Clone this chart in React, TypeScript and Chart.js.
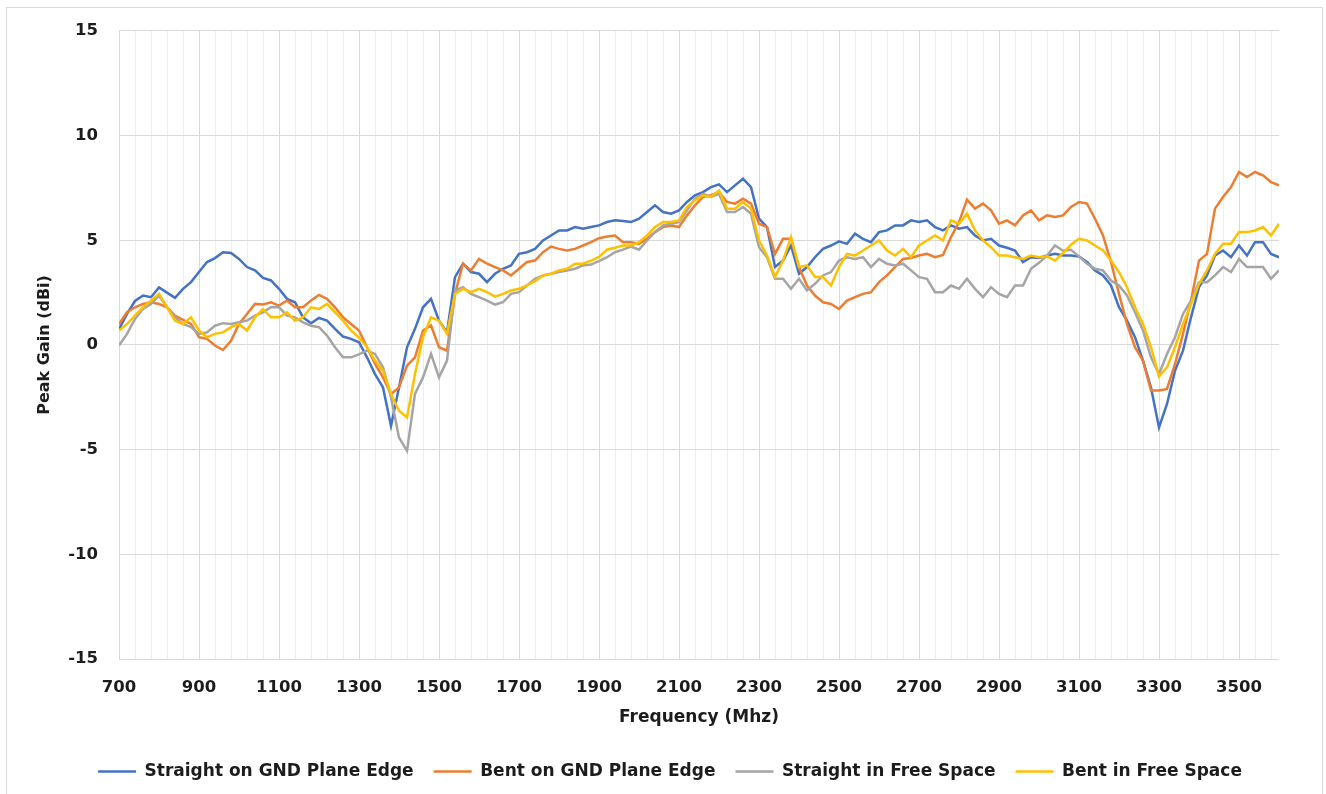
import React, { useEffect, useRef } from 'react';
import { Chart, registerables } from 'chart.js';

Chart.register(...registerables);

// Frequency (MHz), 20 MHz steps
const freq = [
  700, 720, 740, 760, 780, 800, 820, 840, 860, 880,
  900, 920, 940, 960, 980, 1000, 1020, 1040, 1060, 1080,
  1100, 1120, 1140, 1160, 1180, 1200, 1220, 1240, 1260, 1280,
  1300, 1320, 1340, 1360, 1380, 1400, 1420, 1440, 1460, 1480,
  1500, 1520, 1540, 1560, 1580, 1600, 1620, 1640, 1660, 1680,
  1700, 1720, 1740, 1760, 1780, 1800, 1820, 1840, 1860, 1880,
  1900, 1920, 1940, 1960, 1980, 2000, 2020, 2040, 2060, 2080,
  2100, 2120, 2140, 2160, 2180, 2200, 2220, 2240, 2260, 2280,
  2300, 2320, 2340, 2360, 2380, 2400, 2420, 2440, 2460, 2480,
  2500, 2520, 2540, 2560, 2580, 2600, 2620, 2640, 2660, 2680,
  2700, 2720, 2740, 2760, 2780, 2800, 2820, 2840, 2860, 2880,
  2900, 2920, 2940, 2960, 2980, 3000, 3020, 3040, 3060, 3080,
  3100, 3120, 3140, 3160, 3180, 3200, 3220, 3240, 3260, 3280,
  3300, 3320, 3340, 3360, 3380, 3400, 3420, 3440, 3460, 3480,
  3500, 3520, 3540, 3560, 3580, 3600,
];

const straightGnd = [
  0.75, 1.48, 2.1, 2.36, 2.28, 2.75, 2.5, 2.25, 2.68, 3.0,
  3.48, 3.96, 4.15, 4.43, 4.39, 4.11, 3.72, 3.56, 3.2, 3.08,
  2.68, 2.2, 2.04, 1.32, 1.04, 1.29, 1.16, 0.77, 0.4, 0.29,
  0.13, -0.59, -1.39, -2.03, -3.86, -2.03, -0.11, 0.77, 1.8, 2.2,
  1.16, 0.6, 3.24, 3.88, 3.48, 3.4, 3.0, 3.4, 3.64, 3.8,
  4.35, 4.43, 4.59, 4.99, 5.23, 5.47, 5.47, 5.63, 5.55, 5.63,
  5.71, 5.87, 5.95, 5.92, 5.87, 6.03, 6.35, 6.67, 6.35, 6.27,
  6.43, 6.83, 7.15, 7.3, 7.54, 7.67, 7.3, 7.62, 7.94, 7.54,
  6.03, 5.63, 3.72, 4.03, 4.75, 3.4, 3.72, 4.19, 4.59, 4.75,
  4.95, 4.83, 5.31, 5.07, 4.91, 5.39, 5.47, 5.71, 5.71, 5.95,
  5.87, 5.95, 5.63, 5.47, 5.71, 5.55, 5.63, 5.23, 4.99, 5.07,
  4.75, 4.64, 4.51, 3.96, 4.19, 4.15, 4.27, 4.35, 4.27, 4.27,
  4.23, 3.96, 3.56, 3.32, 2.84, 1.8, 1.16, 0.37, -0.75, -2.03,
  -3.94, -2.82, -1.23, -0.27, 1.32, 2.76, 3.32, 4.27, 4.51, 4.19,
  4.75, 4.27, 4.91, 4.91, 4.35, 4.19,
];

const bentGnd = [
  1.0, 1.56, 1.8, 1.96, 2.04, 1.96, 1.8, 1.4, 1.2, 1.0,
  0.37, 0.29, -0.03, -0.24, 0.2, 1.0, 1.48, 1.96, 1.93, 2.04,
  1.88, 2.12, 1.8, 1.8, 2.12, 2.39, 2.2, 1.8, 1.32, 1.0,
  0.69, -0.11, -0.91, -1.55, -2.34, -2.03, -0.99, -0.59, 0.69, 0.93,
  -0.11, -0.27, 2.44, 3.88, 3.56, 4.11, 3.88, 3.72, 3.56, 3.32,
  3.64, 3.96, 4.03, 4.43, 4.7, 4.59, 4.51, 4.59, 4.75, 4.91,
  5.1, 5.18, 5.23, 4.91, 4.91, 4.83, 5.07, 5.39, 5.63, 5.71,
  5.63, 6.19, 6.67, 7.07, 7.15, 7.3, 6.83, 6.75, 6.99, 6.75,
  5.79, 5.63, 4.35, 5.07, 5.07, 3.72, 2.84, 2.36, 2.04, 1.96,
  1.72, 2.12, 2.28, 2.44, 2.52, 3.0, 3.32, 3.72, 4.11, 4.15,
  4.27, 4.35, 4.19, 4.3, 5.15, 5.87, 6.94, 6.51, 6.75, 6.43,
  5.79, 5.95, 5.71, 6.19, 6.43, 5.95, 6.19, 6.11, 6.19, 6.59,
  6.83, 6.75, 6.03, 5.23, 3.96, 2.44, 1.0, -0.11, -0.75, -2.18,
  -2.18, -2.1, -0.91, 0.53, 2.12, 4.03, 4.35, 6.51, 7.07, 7.54,
  8.26, 8.02, 8.26, 8.1, 7.78, 7.62,
];

const straightFree = [
  -0.03, 0.53, 1.24, 1.72, 1.96, 2.36, 1.8, 1.32, 1.0, 0.85,
  0.53, 0.6, 0.92, 1.04, 1.0, 1.08, 1.16, 1.4, 1.56, 1.8,
  1.8, 1.4, 1.32, 1.08, 0.92, 0.85, 0.45, -0.11, -0.59, -0.59,
  -0.45, -0.27, -0.43, -1.07, -2.5, -4.42, -5.06, -2.34, -1.55, -0.43,
  -1.55, -0.75, 2.6, 2.76, 2.44, 2.28, 2.12, 1.93, 2.04, 2.44,
  2.52, 2.84, 3.16, 3.32, 3.4, 3.48, 3.56, 3.64, 3.8, 3.84,
  4.0, 4.19, 4.43, 4.55, 4.7, 4.55, 4.99, 5.39, 5.71, 5.79,
  5.87, 6.43, 6.99, 7.22, 7.07, 7.22, 6.35, 6.35, 6.59, 6.27,
  4.67, 4.19, 3.16, 3.16, 2.68, 3.16, 2.6, 2.92, 3.32, 3.48,
  4.03, 4.19, 4.11, 4.19, 3.72, 4.11, 3.88, 3.8, 3.88, 3.56,
  3.24, 3.16, 2.52, 2.52, 2.84, 2.68, 3.16, 2.68, 2.28, 2.76,
  2.44, 2.28, 2.84, 2.84, 3.64, 3.92, 4.27, 4.75, 4.5, 4.55,
  4.23, 3.88, 3.64, 3.56, 3.08, 2.84, 2.36, 1.56, 0.69, -0.59,
  -1.39, -0.43, 0.37, 1.48, 2.12, 3.0, 3.0, 3.32, 3.72, 3.48,
  4.11, 3.72, 3.72, 3.72, 3.16, 3.56,
];

const bentFree = [
  0.69, 1.0, 1.4, 1.8, 2.12, 2.44, 1.8, 1.16, 1.0, 1.32,
  0.69, 0.37, 0.53, 0.6, 0.85, 1.0, 0.69, 1.32, 1.72, 1.32,
  1.32, 1.56, 1.16, 1.32, 1.8, 1.72, 1.96, 1.56, 1.16, 0.69,
  0.35, -0.11, -0.75, -1.23, -2.34, -3.14, -3.46, -1.39, 0.37, 1.32,
  1.16, 0.53, 2.44, 2.68, 2.52, 2.68, 2.52, 2.31, 2.44, 2.6,
  2.68, 2.84, 3.05, 3.32, 3.4, 3.56, 3.64, 3.88, 3.88, 4.03,
  4.2, 4.55, 4.64, 4.75, 4.75, 4.91, 5.23, 5.63, 5.87, 5.87,
  5.95, 6.59, 6.91, 7.15, 7.07, 7.38, 6.51, 6.51, 6.83, 6.51,
  4.99, 4.27, 3.24, 4.03, 5.15, 3.72, 3.8, 3.24, 3.24, 2.84,
  3.72, 4.35, 4.27, 4.51, 4.75, 4.99, 4.51, 4.27, 4.59, 4.19,
  4.75, 4.99, 5.23, 4.99, 5.95, 5.79, 6.27, 5.47, 4.99, 4.67,
  4.27, 4.27, 4.19, 4.11, 4.27, 4.19, 4.23, 4.03, 4.39, 4.79,
  5.07, 4.99, 4.75, 4.51, 4.03, 3.48, 2.76, 1.8, 1.0, -0.11,
  -1.5, -1.07, -0.11, 1.0, 1.96, 2.92, 3.56, 4.35, 4.83, 4.83,
  5.39, 5.39, 5.47, 5.63, 5.23, 5.79,
];

const seriesNames = [
  'Straight on GND Plane Edge',
  'Bent on GND Plane Edge',
  'Straight in Free Space',
  'Bent in Free Space',
];
const seriesColors = ['#4472C4', '#ED7D31', '#A5A5A5', '#FFC000'];

const xMin = 700;
const xMax = 3600;
const xLabelStep = 200;
const xGridStep = 40;
const yMin = -15;
const yMax = 15;
const yStep = 5;

const FONT = 'DejaVu Sans';
const TEXT = '#1c1c1c';

export default function App() {
  const ref = useRef<HTMLCanvasElement>(null);

  useEffect(() => {
    const series = [straightGnd, bentGnd, straightFree, bentFree];
    const chart = new Chart(ref.current as HTMLCanvasElement, {
      type: 'line',
      data: {
        datasets: series.map((s, i) => ({
          label: seriesNames[i],
          data: freq.map((f, j) => ({ x: f, y: s[j] })),
          borderColor: seriesColors[i],
          backgroundColor: seriesColors[i],
          borderWidth: 2.5,
          pointRadius: 0,
          tension: 0,
          order: series.length - i,
        })),
      },
      options: {
        animation: false,
        responsive: true,
        maintainAspectRatio: false,
        devicePixelRatio: 1,
        events: [],
        layout: { padding: { top: 30, left: 14, right: 0, bottom: 4 } },
        plugins: {
          tooltip: { enabled: false },
          legend: {
            position: 'bottom',
            labels: {
              usePointStyle: true,
              pointStyle: 'line',
              pointStyleWidth: 38,
              padding: 20,
              color: TEXT,
              font: { family: FONT, size: 17, weight: 'bold' },
              sort: (a: any, b: any) => a.datasetIndex - b.datasetIndex,
            },
          },
        },
        scales: {
          x: {
            type: 'linear',
            min: xMin,
            max: xMax,
            afterBuildTicks: (scale: any) => {
              const t = [];
              for (let v = xMin; v < xMax; v += xGridStep) t.push({ value: v });
              scale.ticks = t;
            },
            afterFit: (scale: any) => {
              scale.height = 84;
            },
            ticks: {
              autoSkip: false,
              maxRotation: 0,
              padding: 19,
              color: TEXT,
              font: { family: FONT, size: 16.5, weight: 'bold' },
              callback: (v: any) => ((Number(v) - xMin) % xLabelStep === 0 ? String(v) : ''),
            },
            grid: {
              drawTicks: false,
              lineWidth: 1,
              color: (ctx: any) => {
                const v = ctx.tick ? ctx.tick.value : 0;
                return (v - xMin) % xLabelStep === 0 ? '#d9d9d9' : '#eeeeee';
              },
            },
            border: { display: false },
            title: {
              display: true,
              text: 'Frequency (Mhz)',
              color: TEXT,
              font: { family: FONT, size: 17, weight: 'bold' },
              padding: { top: 0, bottom: 15 },
            },
          },
          y: {
            type: 'linear',
            min: yMin,
            max: yMax,
            afterFit: (scale: any) => {
              scale.width = 105;
            },
            ticks: {
              stepSize: yStep,
              padding: 21,
              color: TEXT,
              font: { family: FONT, size: 16.5, weight: 'bold' },
            },
            grid: { drawTicks: false, color: '#d9d9d9', lineWidth: 1 },
            border: { display: false },
            title: {
              display: true,
              text: 'Peak Gain (dBi)',
              color: TEXT,
              font: { family: FONT, size: 16, weight: 'bold' },
              padding: { top: 21, bottom: 0 },
            },
          },
          yRight: {
            type: 'linear',
            position: 'right',
            display: true,
            grid: { display: false },
            ticks: { display: false },
            border: { display: false },
            afterFit: (scale: any) => {
              scale.width = 47;
            },
          },
        },
      } as any,
    });
    return () => chart.destroy();
  }, []);

  return (
    <div style={{ position: 'absolute', left: 0, top: 0, width: 1326, height: 794, background: '#fff', overflow: 'hidden' }}>
      <div
        style={{
          position: 'absolute',
          left: 6,
          top: 7,
          width: 1317,
          height: 787,
          boxSizing: 'border-box',
          borderTop: '1px solid #d9d9d9',
          borderLeft: '1px solid #d9d9d9',
          borderRight: '1px solid #d9d9d9',
        }}
      />
      <div style={{ position: 'absolute', left: 0, top: 0, width: 1326, height: 794 }}>
        <canvas ref={ref} />
      </div>
    </div>
  );
}
